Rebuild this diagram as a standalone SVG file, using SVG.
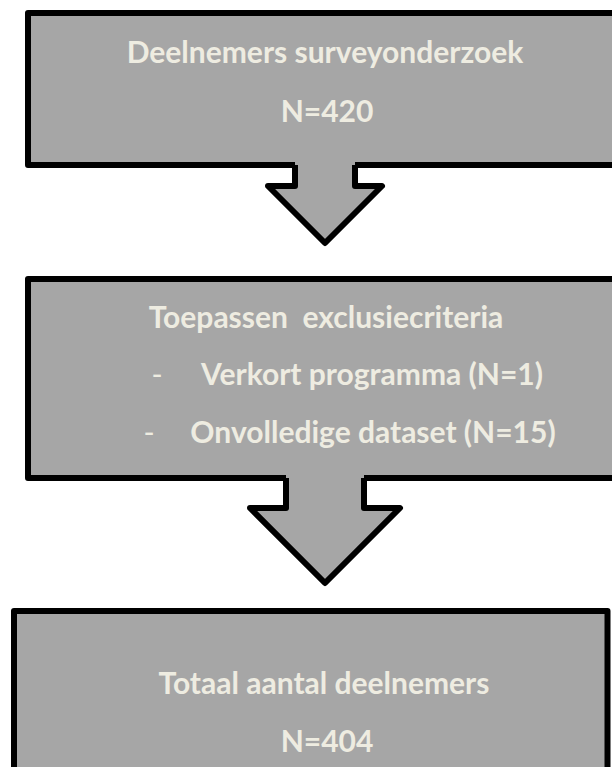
<svg xmlns="http://www.w3.org/2000/svg" width="612" height="767" viewBox="0 0 612 767">
<style>
.box{fill:#a6a6a6;stroke:#000;stroke-width:6;stroke-linejoin:round}
.af{fill:#a6a6a6;stroke:none}
.ao{fill:none;stroke:#000;stroke-width:6;stroke-linejoin:round}
.t{font-family:Lato,"Open Sans",sans-serif;font-weight:bold;font-size:30px;fill:#eeece1;text-anchor:middle;white-space:pre}
.d{font-weight:normal}
</style>
<rect width="612" height="767" fill="#fff"/>
<g id="node1">
<rect class="box" x="28" y="13" width="600" height="152"/>
<text class="t" x="325" y="63">Deelnemers surveyonderzoek</text>
<text class="t" x="327" y="122">N=420</text>
</g>
<g id="node2">
<rect class="box" x="28" y="279" width="600" height="199"/>
<text class="t" x="326" y="328">Toepassen  exclusiecriteria</text>
<text class="t d" x="157" y="385">-</text>
<text class="t" x="372" y="385">Verkort programma (N=1)</text>
<text class="t d" x="149" y="443">-</text>
<text class="t" x="373" y="443">Onvolledige dataset (N=15)</text>
</g>
<g id="node3">
<rect class="box" x="14" y="611" width="593.5" height="170"/>
<text class="t" x="324" y="694">Totaal aantal deelnemers</text>
<text class="t" x="327" y="752">N=404</text>
</g>
<g id="connectors">
<g id="arrow1">
<polygon class="af" points="295,158 355,158 355,186 382,186 325,243 268,186 295,186"/>
<polyline class="ao" points="295,165 295,186 268,186 325,243 382,186 355,186 355,165"/>
</g>
<g id="arrow2">
<polygon class="af" points="286,471 364,471 364,508 400,508 325,583 250,508 286,508"/>
<polyline class="ao" points="286,478 286,508 250,508 325,583 400,508 364,508 364,478"/>
</g>
</g>
</svg>
